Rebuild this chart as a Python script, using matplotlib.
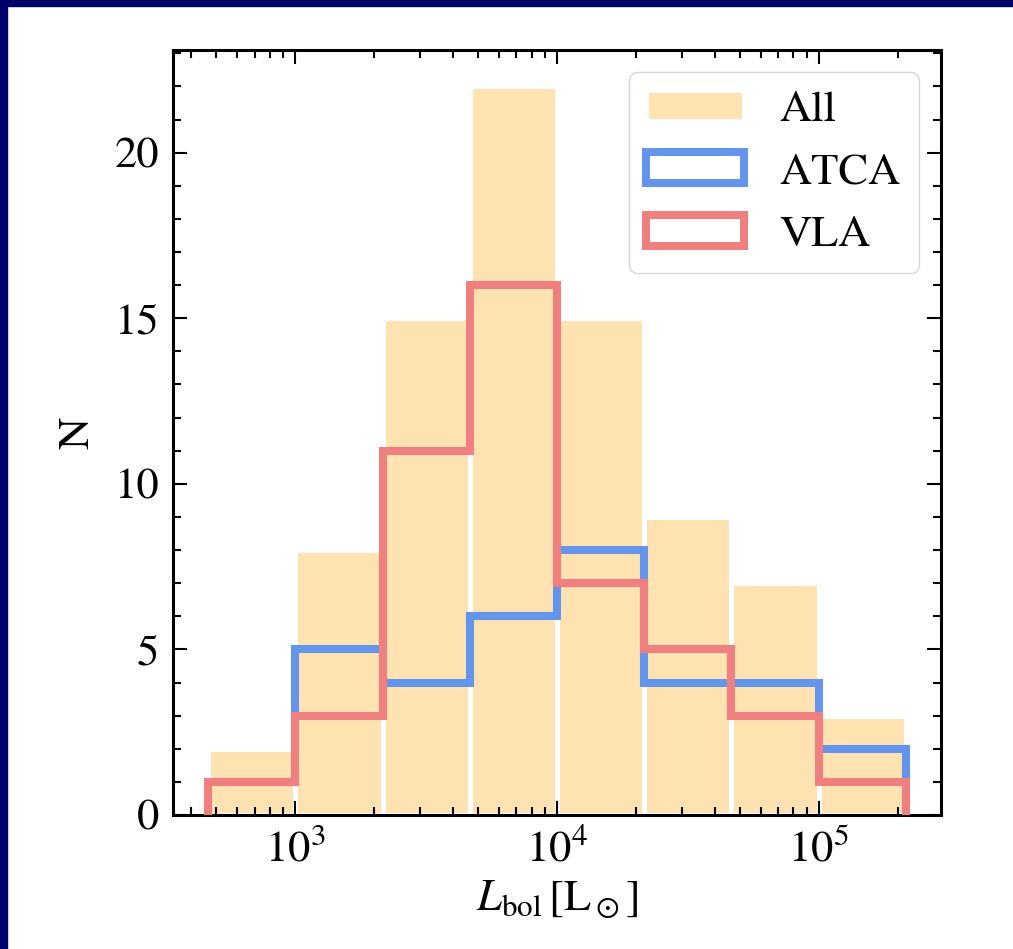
import numpy as np
import matplotlib
matplotlib.use("Agg")
import matplotlib.pyplot as plt
from matplotlib.patches import Rectangle
from matplotlib.ticker import MultipleLocator, LogLocator, NullFormatter

# ---- data ----
log_edges = [8/3, 3.0, 10/3, 11/3, 4.0, 13/3, 14/3, 5.0, 16/3]
all_counts = [2, 8, 15, 22, 15, 9, 7, 3]
atca_counts = [1, 5, 4, 6, 8, 4, 4, 2]   # first bin hidden under the VLA outline
vla_counts = [1, 3, 11, 16, 7, 5, 3, 1]
labels = ["All", "ATCA", "VLA"]

edges = 10 ** np.array(log_edges)
centers = np.sqrt(edges[:-1] * edges[1:])

plt.rcParams.update({
    "font.family": "serif",
    "font.serif": ["STIXGeneral", "Liberation Serif", "DejaVu Serif"],
    "mathtext.fontset": "stix",
    "font.size": 32,
})

fig = plt.figure(figsize=(10.13, 9.49), dpi=100)
ax = fig.add_axes([0.1708, 0.1412, 0.9289 - 0.1708, 0.9473 - 0.1412])

ax.hist(centers, bins=edges, weights=all_counts, color="#FFE2B2",
        edgecolor="white", linewidth=3.6, label=labels[0], zorder=1)
ax.hist(centers, bins=edges, weights=atca_counts, histtype="step",
        color="#6495ED", linewidth=5.8, label=labels[1], zorder=2)
ax.hist(centers, bins=edges, weights=vla_counts, histtype="step",
        color="#F08080", linewidth=5.8, label=labels[2], zorder=3)

ax.set_xscale("log")
ax.set_xlim(10 ** 2.533, 10 ** 5.467)
ax.set_ylim(0, 23.1)

ax.yaxis.set_major_locator(MultipleLocator(5))
ax.yaxis.set_minor_locator(MultipleLocator(1))
ax.xaxis.set_minor_locator(LogLocator(base=10, subs=np.arange(2, 10)))
ax.xaxis.set_minor_formatter(NullFormatter())

ax.tick_params(which="both", direction="in", top=True, right=True, width=1.5)
ax.tick_params(which="major", length=10, pad=10)
ax.tick_params(which="minor", length=5.5)
for s in ax.spines.values():
    s.set_linewidth(2.2)

ax.set_xlabel(r"$L_\mathrm{bol}\,[\mathrm{L}_\odot]$", labelpad=6)
ax.set_ylabel("N", labelpad=12)

ax.legend(loc="upper right", handlelength=2.2, borderaxespad=0.5)

# navy strips along the top and left edges (as in the reference crop)
fig.patches.append(Rectangle((0, 1 - 6/949), 1, 6/949, transform=fig.transFigure,
                             color="#00006a", zorder=10))
fig.patches.append(Rectangle((0, 0), 7/1013, 1, transform=fig.transFigure,
                             color="#00006a", zorder=10))

fig.savefig("out.png", dpi=100)
